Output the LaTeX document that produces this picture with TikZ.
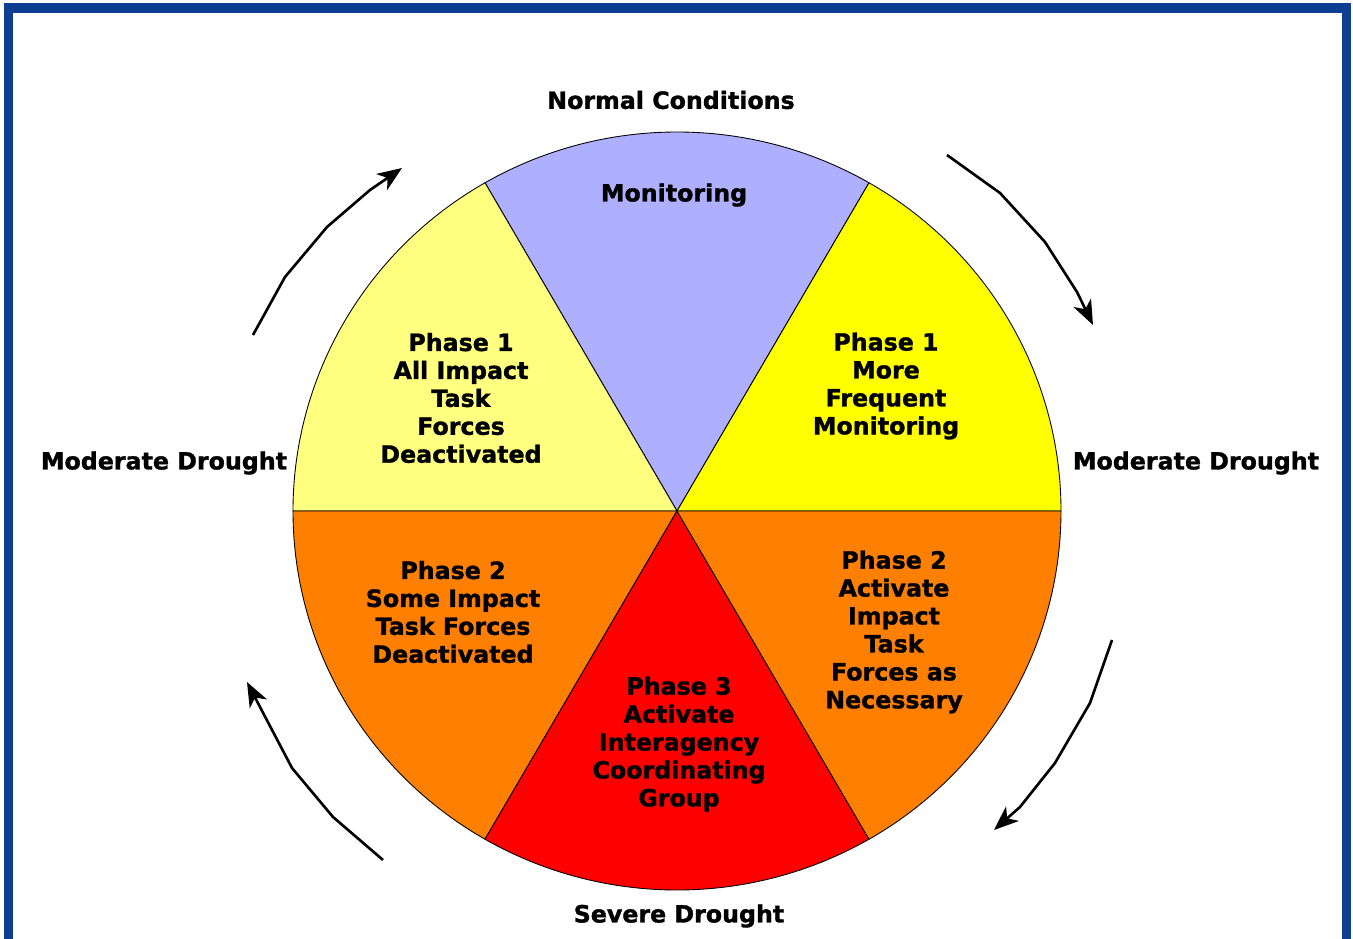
\documentclass[tikz,border=0pt]{standalone}
\usepackage{fontspec}
\setmainfont{DejaVu Sans}[BoldFeatures={FakeBold=1.3}]
\usetikzlibrary{arrows.meta}
\definecolor{frameblue}{RGB}{14,62,146}
\definecolor{lav}{RGB}{175,175,255}
\definecolor{lyel}{RGB}{255,255,128}
\definecolor{yel}{RGB}{255,255,0}
\definecolor{org}{RGB}{255,128,0}
\definecolor{rd}{RGB}{255,0,0}
\tikzset{
  lbl/.style={font=\fontsize{13.5pt}{15.9pt}\selectfont\bfseries, align=center, inner sep=0pt},
  sector/.style={draw=black, line width=0.5pt},
  cyc/.style={draw=black, line width=1.5pt, -{Stealth[length=14pt,width=11pt,inset=4pt]}, line join=round}
}
\begin{document}
\begin{tikzpicture}[x=0.02cm,y=-0.02cm]
\useasboundingbox (0,0) rectangle (1353,939);
\begin{scope}
\clip (0,0) rectangle (1353,939);
\draw[frameblue, line width=5.5pt] (8.5,8) rectangle (1346.5,960);
\end{scope}
\coordinate (C) at (677,511);
\def\rx{384}\def\ry{379}
% sectors
\foreach \a/\b/\c in {60/120/lav, 0/60/yel, 120/180/lyel, 180/240/org, 240/300/rd, 300/360/org}{
  \filldraw[fill=\c, sector] (C) -- ++({\rx*cos(\a)},{-\ry*sin(\a)}) arc[start angle=-\a, end angle=-\b, x radius=\rx, y radius=\ry] -- cycle;
}
% labels
\node[lbl] (nc) at (671,100) {Normal Conditions};
\node[lbl] (mon) at (674,195) {Monitoring};
\node[lbl] (p1l) at (461,398) {Phase 1\\All Impact\\Task\\Forces\\Deactivated};
\node[lbl] (p1r) at (886,386) {Phase 1\\More\\Frequent\\Monitoring};
\node[lbl] (p2l) at (453,612) {Phase 2\\Some Impact\\Task Forces\\Deactivated};
\node[lbl] (p2r) at (894,632) {Phase 2\\Activate\\Impact\\Task\\Forces as\\Necessary};
\node[lbl] (p3) at (679,744) {Phase 3\\Activate\\Interagency\\Coordinating\\Group};
\node[lbl] (mdl) at (164,463) {Moderate Drought};
\node[lbl] (mdr) at (1196,463) {Moderate Drought};
\node[lbl] (sd) at (679,916) {Severe Drought};
% cycle arrows
\coordinate (a1s) at (253,335); \coordinate (a1e) at (402,168);
\draw[cyc] (a1s) -- (285,277) -- (327,227) -- (370,190) -- (a1e);
\coordinate (a2s) at (947,155); \coordinate (a2e) at (1093,325);
\draw[cyc] (a2s) -- (1000,193) -- (1045,242) -- (1077,292) -- (a2e);
\coordinate (a3s) at (1112,640); \coordinate (a3e) at (994,830);
\draw[cyc] (a3s) -- (1090,703) -- (1055,763) -- (1020,807) -- (a3e);
\coordinate (a4s) at (383,860); \coordinate (a4e) at (247,682);
\draw[cyc] (a4s) -- (333,817) -- (292,768) -- (260,707) -- (a4e);
\end{tikzpicture}
\end{document}
